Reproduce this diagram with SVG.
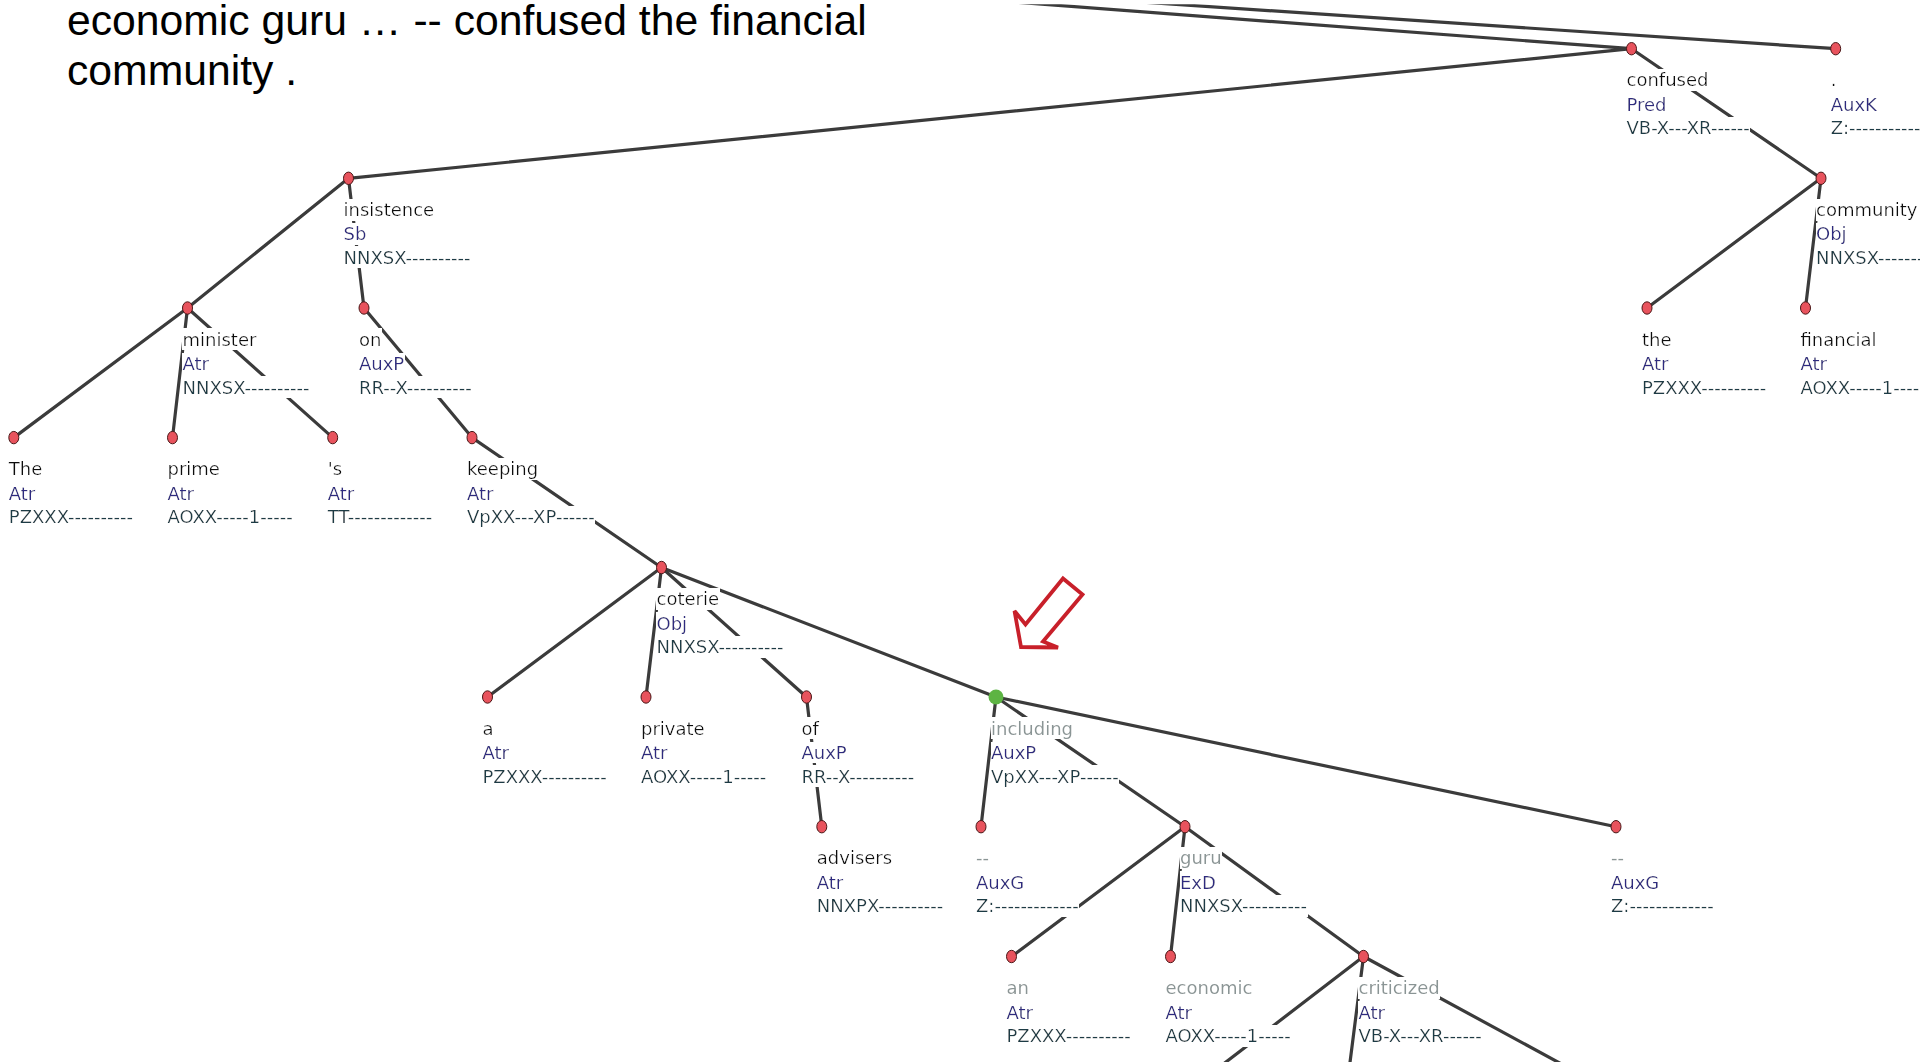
<svg xmlns="http://www.w3.org/2000/svg" width="1920" height="1062" viewBox="0 0 1920 1062">
<defs>
<style>
.e{stroke:#3b3b3b;stroke-width:3.2;fill:none;stroke-linecap:round}
.nd{fill:#e8535d;stroke:#4a1818;stroke-width:1}
.gn{fill:#5db443;stroke:none}
text{font-family:"DejaVu Sans",sans-serif;font-size:18px}
.lb{filter:url(#bg)}
.w{fill:#111}
.g{fill:#8a9595}
.f{fill:#2e2a80}
.t{fill:#1a3a44}
.title{font-family:"Liberation Sans",Arial,sans-serif;font-size:42.7px;fill:#000}
</style>
<filter id="bg" x="0" y="0" width="1" height="1"><feFlood flood-color="#ffffff"/><feComposite in="SourceGraphic" operator="over"/></filter>
<clipPath id="clipTop"><rect x="0" y="4.3" width="1920" height="1100"/></clipPath>
</defs>
<rect width="1920" height="1062" fill="#ffffff"/>
<g id="title">
<text class="title" x="67" y="34.5">economic guru … -- confused the financial</text>
<text class="title" x="67" y="84.5">community .</text>
</g>
<g id="connectors" clip-path="url(#clipTop)">
<line class="e" x1="986.8" y1="0" x2="1631.5" y2="48.7"/>
<line class="e" x1="1110.8" y1="0" x2="1835.7" y2="48.7"/>
<line class="e" x1="1631.5" y1="48.7" x2="348.5" y2="178.3"/>
<line class="e" x1="1631.5" y1="48.7" x2="1821" y2="178.3"/>
<line class="e" x1="1821" y1="178.3" x2="1647" y2="308"/>
<line class="e" x1="1821" y1="178.3" x2="1805.5" y2="308"/>
<line class="e" x1="348.5" y1="178.3" x2="187.5" y2="308"/>
<line class="e" x1="348.5" y1="178.3" x2="364" y2="308"/>
<line class="e" x1="187.5" y1="308" x2="13.8" y2="437.6"/>
<line class="e" x1="187.5" y1="308" x2="172.5" y2="437.6"/>
<line class="e" x1="187.5" y1="308" x2="332.7" y2="437.6"/>
<line class="e" x1="364" y1="308" x2="472" y2="437.6"/>
<line class="e" x1="472" y1="437.6" x2="661.5" y2="567.5"/>
<line class="e" x1="661.5" y1="567.5" x2="487.5" y2="697"/>
<line class="e" x1="661.5" y1="567.5" x2="646" y2="697"/>
<line class="e" x1="661.5" y1="567.5" x2="806.5" y2="697"/>
<line class="e" x1="661.5" y1="567.5" x2="996" y2="697"/>
<line class="e" x1="806.5" y1="697" x2="821.8" y2="826.7"/>
<line class="e" x1="996" y1="697" x2="981" y2="826.7"/>
<line class="e" x1="996" y1="697" x2="1185" y2="826.7"/>
<line class="e" x1="996" y1="697" x2="1616" y2="826.7"/>
<line class="e" x1="1185" y1="826.7" x2="1011.5" y2="956.5"/>
<line class="e" x1="1185" y1="826.7" x2="1170.5" y2="956.5"/>
<line class="e" x1="1185" y1="826.7" x2="1363.5" y2="956.5"/>
<line class="e" x1="1363.5" y1="956.5" x2="1194.7" y2="1086"/>
<line class="e" x1="1363.5" y1="956.5" x2="1347" y2="1086"/>
<line class="e" x1="1363.5" y1="956.5" x2="1602" y2="1086"/>
</g>
<g id="n-confused" transform="translate(1631.5,48.7)"><ellipse class="nd" rx="5" ry="6.2"/><text class="lb w" x="-5" y="37.8">confused</text><text class="lb f" x="-5" y="62">Pred</text><text class="lb t" x="-5" y="85.6">VB-X---XR------</text></g>
<g id="n-period" transform="translate(1835.7,48.7)"><ellipse class="nd" rx="5" ry="6.2"/><text class="lb w" x="-5" y="37.8">.</text><text class="lb f" x="-5" y="62">AuxK</text><text class="lb t" x="-5" y="85.6">Z:-------------</text></g>
<g id="n-insistence" transform="translate(348.5,178.3)"><ellipse class="nd" rx="5" ry="6.2"/><text class="lb w" x="-5" y="37.8">insistence</text><text class="lb f" x="-5" y="62">Sb</text><text class="lb t" x="-5" y="85.6">NNXSX----------</text></g>
<g id="n-community" transform="translate(1821,178.3)"><ellipse class="nd" rx="5" ry="6.2"/><text class="lb w" x="-5" y="37.8">community</text><text class="lb f" x="-5" y="62">Obj</text><text class="lb t" x="-5" y="85.6">NNXSX----------</text></g>
<g id="n-minister" transform="translate(187.5,308)"><ellipse class="nd" rx="5" ry="6.2"/><text class="lb w" x="-5" y="37.8">minister</text><text class="lb f" x="-5" y="62">Atr</text><text class="lb t" x="-5" y="85.6">NNXSX----------</text></g>
<g id="n-on" transform="translate(364,308)"><ellipse class="nd" rx="5" ry="6.2"/><text class="lb w" x="-5" y="37.8">on</text><text class="lb f" x="-5" y="62">AuxP</text><text class="lb t" x="-5" y="85.6">RR--X----------</text></g>
<g id="n-the" transform="translate(1647,308)"><ellipse class="nd" rx="5" ry="6.2"/><text class="lb w" x="-5" y="37.8">the</text><text class="lb f" x="-5" y="62">Atr</text><text class="lb t" x="-5" y="85.6">PZXXX----------</text></g>
<g id="n-financial" transform="translate(1805.5,308)"><ellipse class="nd" rx="5" ry="6.2"/><text class="lb w" x="-5" y="37.8">financial</text><text class="lb f" x="-5" y="62">Atr</text><text class="lb t" x="-5" y="85.6">AOXX-----1-----</text></g>
<g id="n-The" transform="translate(13.8,437.6)"><ellipse class="nd" rx="5" ry="6.2"/><text class="lb w" x="-5" y="37.8">The</text><text class="lb f" x="-5" y="62">Atr</text><text class="lb t" x="-5" y="85.6">PZXXX----------</text></g>
<g id="n-prime" transform="translate(172.5,437.6)"><ellipse class="nd" rx="5" ry="6.2"/><text class="lb w" x="-5" y="37.8">prime</text><text class="lb f" x="-5" y="62">Atr</text><text class="lb t" x="-5" y="85.6">AOXX-----1-----</text></g>
<g id="n-s" transform="translate(332.7,437.6)"><ellipse class="nd" rx="5" ry="6.2"/><text class="lb w" x="-5" y="37.8">'s</text><text class="lb f" x="-5" y="62">Atr</text><text class="lb t" x="-5" y="85.6">TT-------------</text></g>
<g id="n-keeping" transform="translate(472,437.6)"><ellipse class="nd" rx="5" ry="6.2"/><text class="lb w" x="-5" y="37.8">keeping</text><text class="lb f" x="-5" y="62">Atr</text><text class="lb t" x="-5" y="85.6">VpXX---XP------</text></g>
<g id="n-coterie" transform="translate(661.5,567.5)"><ellipse class="nd" rx="5" ry="6.2"/><text class="lb w" x="-5" y="37.8">coterie</text><text class="lb f" x="-5" y="62">Obj</text><text class="lb t" x="-5" y="85.6">NNXSX----------</text></g>
<g id="n-a" transform="translate(487.5,697)"><ellipse class="nd" rx="5" ry="6.2"/><text class="lb w" x="-5" y="37.8">a</text><text class="lb f" x="-5" y="62">Atr</text><text class="lb t" x="-5" y="85.6">PZXXX----------</text></g>
<g id="n-private" transform="translate(646,697)"><ellipse class="nd" rx="5" ry="6.2"/><text class="lb w" x="-5" y="37.8">private</text><text class="lb f" x="-5" y="62">Atr</text><text class="lb t" x="-5" y="85.6">AOXX-----1-----</text></g>
<g id="n-of" transform="translate(806.5,697)"><ellipse class="nd" rx="5" ry="6.2"/><text class="lb w" x="-5" y="37.8">of</text><text class="lb f" x="-5" y="62">AuxP</text><text class="lb t" x="-5" y="85.6">RR--X----------</text></g>
<g id="n-including" transform="translate(996,697)"><ellipse class="gn" rx="7.5" ry="7.5"/><text class="lb g" x="-5" y="37.8">including</text><text class="lb f" x="-5" y="62">AuxP</text><text class="lb t" x="-5" y="85.6">VpXX---XP------</text></g>
<g id="n-advisers" transform="translate(821.8,826.7)"><ellipse class="nd" rx="5" ry="6.2"/><text class="lb w" x="-5" y="37.8">advisers</text><text class="lb f" x="-5" y="62">Atr</text><text class="lb t" x="-5" y="85.6">NNXPX----------</text></g>
<g id="n-dash1" transform="translate(981,826.7)"><ellipse class="nd" rx="5" ry="6.2"/><text class="lb g" x="-5" y="37.8">--</text><text class="lb f" x="-5" y="62">AuxG</text><text class="lb t" x="-5" y="85.6">Z:-------------</text></g>
<g id="n-guru" transform="translate(1185,826.7)"><ellipse class="nd" rx="5" ry="6.2"/><text class="lb g" x="-5" y="37.8">guru</text><text class="lb f" x="-5" y="62">ExD</text><text class="lb t" x="-5" y="85.6">NNXSX----------</text></g>
<g id="n-dash2" transform="translate(1616,826.7)"><ellipse class="nd" rx="5" ry="6.2"/><text class="lb g" x="-5" y="37.8">--</text><text class="lb f" x="-5" y="62">AuxG</text><text class="lb t" x="-5" y="85.6">Z:-------------</text></g>
<g id="n-an" transform="translate(1011.5,956.5)"><ellipse class="nd" rx="5" ry="6.2"/><text class="lb g" x="-5" y="37.8">an</text><text class="lb f" x="-5" y="62">Atr</text><text class="lb t" x="-5" y="85.6">PZXXX----------</text></g>
<g id="n-economic" transform="translate(1170.5,956.5)"><ellipse class="nd" rx="5" ry="6.2"/><text class="lb g" x="-5" y="37.8">economic</text><text class="lb f" x="-5" y="62">Atr</text><text class="lb t" x="-5" y="85.6">AOXX-----1-----</text></g>
<g id="n-criticized" transform="translate(1363.5,956.5)"><ellipse class="nd" rx="5" ry="6.2"/><text class="lb g" x="-5" y="37.8">criticized</text><text class="lb f" x="-5" y="62">Atr</text><text class="lb t" x="-5" y="85.6">VB-X---XR------</text></g>
<g id="arrow">
<polygon points="1021,647 1014.5,611 1025.5,624.5 1063,578.5 1082.5,594.5 1043,641.5 1058,647.5" fill="#ffffff" stroke="#c8202a" stroke-width="3.8" stroke-linejoin="miter"/>
</g>
</svg>
